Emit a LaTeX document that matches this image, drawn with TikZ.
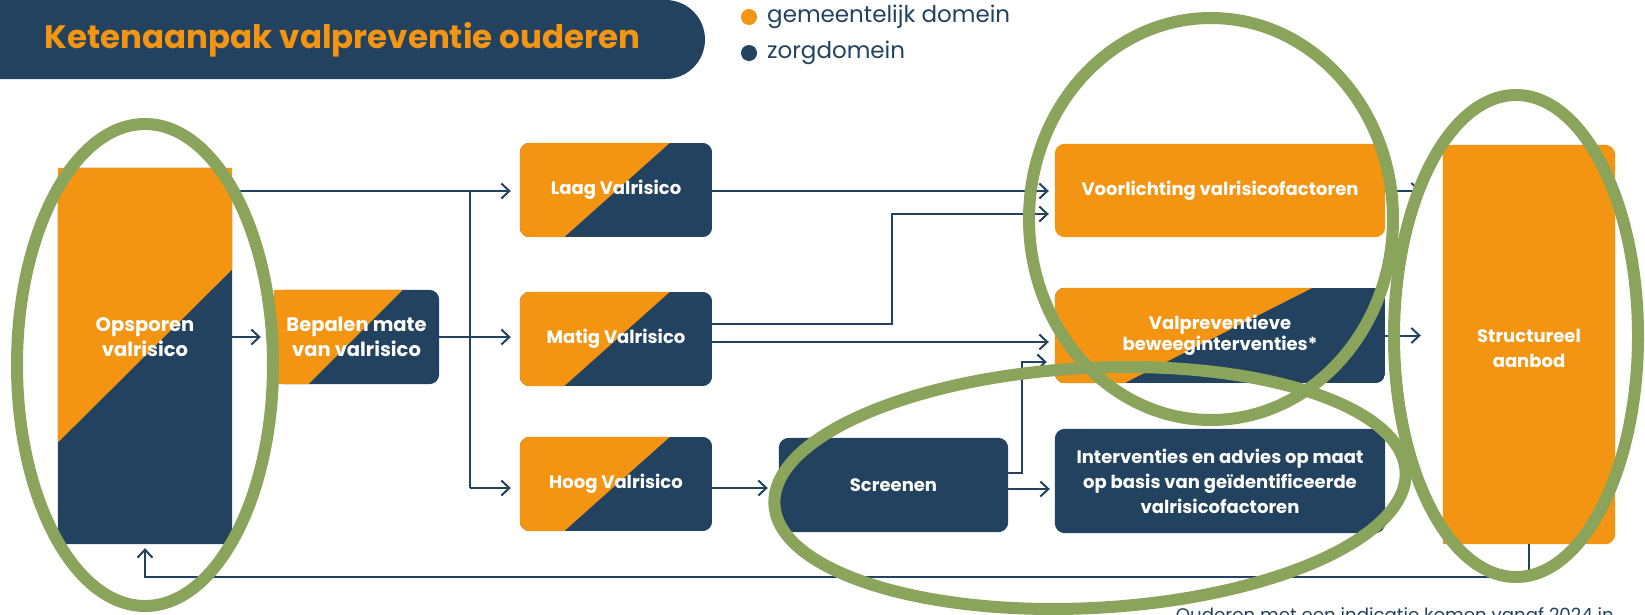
\documentclass[tikz,border=0pt]{standalone}
\usepackage{fontspec}
\setmainfont{Poppins}
\usetikzlibrary{arrows.meta,calc,backgrounds}
\definecolor{navyc}{HTML}{22425F}
\definecolor{orangec}{HTML}{F39512}
\definecolor{greenc}{HTML}{8BA45B}
\newcommand\splitfill[3]{%
 \begin{scope}
 \clip[rounded corners=10pt] (#1.north west) rectangle (#1.south east);
 \fill[navyc] (#1.north west) rectangle (#1.south east);
 \fill[orangec] (#1.north west) -- ($(#1.north west)!#2!(#1.north east)$) -- ($(#1.south west)!#3!(#1.south east)$) -- (#1.south west) -- cycle;
 \end{scope}}
\tikzset{
 box/.style={inner sep=0pt, align=center, text=white, font=\bfseries\fontsize{18}{25}\selectfont},
 bigbox/.style={box, font=\bfseries\fontsize{19.5}{25}\selectfont},
 conn/.style={draw=navyc, line width=2pt, -{Straight Barb[length=8pt,width=15pt]}, shorten >=#1},
 conn/.default=8pt,
 ln/.style={draw=navyc, line width=2pt},
 ring/.style={draw=greenc, line width=12pt},
}
\begin{document}
\begin{tikzpicture}[x=1pt,y=-1pt]
\useasboundingbox (0,0) rectangle (1645,614);
% nodes
\node[box,minimum width=174pt,minimum height=376pt] (ops) at (145,356) {};
\node[bigbox] (opsT) at (145,337) {Opsporen\\valrisico};
\node[bigbox,minimum width=165pt,minimum height=94pt] (bep) at (356.5,337) {Bepalen mate\\van valrisico};
\node[box,minimum width=192pt,minimum height=94pt] (laag) at (616,190) {Laag Valrisico};
\node[box,minimum width=192pt,minimum height=94pt] (matig) at (616,339) {Matig Valrisico};
\node[box,minimum width=192pt,minimum height=94pt] (hoog) at (616,484) {Hoog Valrisico};
\node[box,minimum width=229pt,minimum height=94pt] (scr) at (893.5,485) {Screenen};
\node[box,minimum width=330pt,minimum height=93pt] (voor) at (1220,190.5) {Voorlichting valrisicofactoren};
\node[box,minimum width=330pt,minimum height=95pt,font=\bfseries\fontsize{18}{21}\selectfont] (valp) at (1220,335.5) {Valpreventieve\\beweeginterventies*};
\node[box,minimum width=330pt,minimum height=104pt] (intv) at (1220,481) {Interventies en advies op maat\\op basis van geïdentificeerde\\valrisicofactoren};
\node[box,minimum width=172pt,minimum height=399pt] (struct) at (1529,344.5) {};
\node[box] (structT) at (1529,348) {Structureel\\aanbod};
% backgrounds
\begin{pgfonlayer}{background}
\fill[white] (0,0) rectangle (1645,614);
\fill[navyc, rounded corners=39.5pt] (-60,0) rectangle (705,79);
\fill[navyc, rounded corners=10pt] (ops.north west) rectangle (ops.south east);
\fill[navyc] (ops.north west) rectangle (ops.east);
\fill[orangec] (ops.north west) -- (ops.north east) -- ($(ops.north east)!0.27!(ops.south east)$) -- ($(ops.north west)!0.73!(ops.south west)$) -- cycle;
\fill[navyc, rounded corners=10pt] (bep.north west) rectangle (bep.south east);
\fill[navyc] (bep.north west) rectangle (bep.south);
\fill[orangec] (bep.north west) -- ($(bep.north west)!0.78!(bep.north east)$) -- ($(bep.south west)!0.21!(bep.south east)$) -- (bep.south west) -- cycle;
\splitfill{laag}{0.78}{0.23}
\splitfill{matig}{0.78}{0.23}
\splitfill{hoog}{0.78}{0.23}
\splitfill{valp}{0.78}{0.21}
\fill[navyc, rounded corners=10pt] (scr.north west) rectangle (scr.south east);
\fill[orangec, rounded corners=10pt] (voor.north west) rectangle (voor.south east);
\fill[navyc, rounded corners=10pt] (intv.north west) rectangle (intv.south east);
\fill[orangec, rounded corners=10pt] (struct.north west) rectangle (struct.south east);
\fill[orangec] (struct.north west) rectangle (struct.south);
\end{pgfonlayer}
% connectors
\coordinate (spT) at (470,191);
\coordinate (spB) at (470,488);
\coordinate (mTurn) at (892,214);
\coordinate (sTurn) at (1022,362);
\coordinate (fbR) at (1529,577);
\coordinate (fbL) at (145,577);
\draw[conn=9pt] (ops.east |- spT) -- (laag.west |- spT);
\draw[conn=13pt] (ops.east |- bep) -- (bep);
\draw[conn=9pt] (bep.east) -- (bep.east -| matig.west);
\draw[ln] (spT) -- (spB);
\draw[conn=9pt] (spB) -- (spB -| hoog.west);
\draw[conn=6pt] (laag.east |- spT) -- (voor.west |- spT);
\draw[conn=6pt] ($(matig.east)+(0,-15)$) -| (mTurn) -- (voor.west |- mTurn);
\draw[conn=6pt] ($(matig.east)+(0,3)$) -- ($(matig.east -| valp.west)+(0,3)$);
\draw[conn=11pt] (hoog.east |- spB) -- (scr.west |- spB);
\draw[conn=8pt] ($(scr.east)+(0,-12)$) -| (sTurn) -- (valp.west |- sTurn);
\draw[conn=5pt] ($(scr.east)+(0,4)$) -- ($(scr.east -| intv.west)+(0,4)$);
\draw[conn=22pt] (voor.east) -- (struct.west |- voor.east);
\draw[conn=22pt] (valp.east) -- (struct.west |- valp.east);
\draw[conn=4pt] (struct.south) -- (fbR) -- (fbL) -- (ops.south);
% title and legend
\node[font=\bfseries\fontsize{32.5}{38}\selectfont, text=orangec] (title) at (342.5,40) {Ketenaanpak valpreventie ouderen};
\node[circle, fill=orangec, minimum size=16pt, inner sep=0pt] (dotG) at (749,17) {};
\node[circle, fill=navyc, minimum size=16pt, inner sep=0pt] (dotZ) at (749,53) {};
\node[anchor=west, inner sep=0pt, text=navyc, font=\fontsize{23}{27}\selectfont] (legG) at (767,17) {gemeentelijk domein};
\node[anchor=west, inner sep=0pt, text=navyc, font=\fontsize{23}{27}\selectfont] (legZ) at (767,53) {zorgdomein};
\node[anchor=base east, inner sep=0pt, text=navyc, font=\fontsize{18.2}{22}\selectfont] (foot) at (1614,621) {Ouderen met een indicatie komen vanaf 2024 in};
% rings
\draw[ring] (145,365) ellipse [x radius=128, y radius=241];
\draw[ring] (1211,219) ellipse [x radius=182, y radius=201];
\draw[ring, rotate around={3:(1090,488)}] (1090,488) ellipse [x radius=316, y radius=120];
\draw[ring] (1516,336) ellipse [x radius=122, y radius=241];
\end{tikzpicture}
\end{document}
